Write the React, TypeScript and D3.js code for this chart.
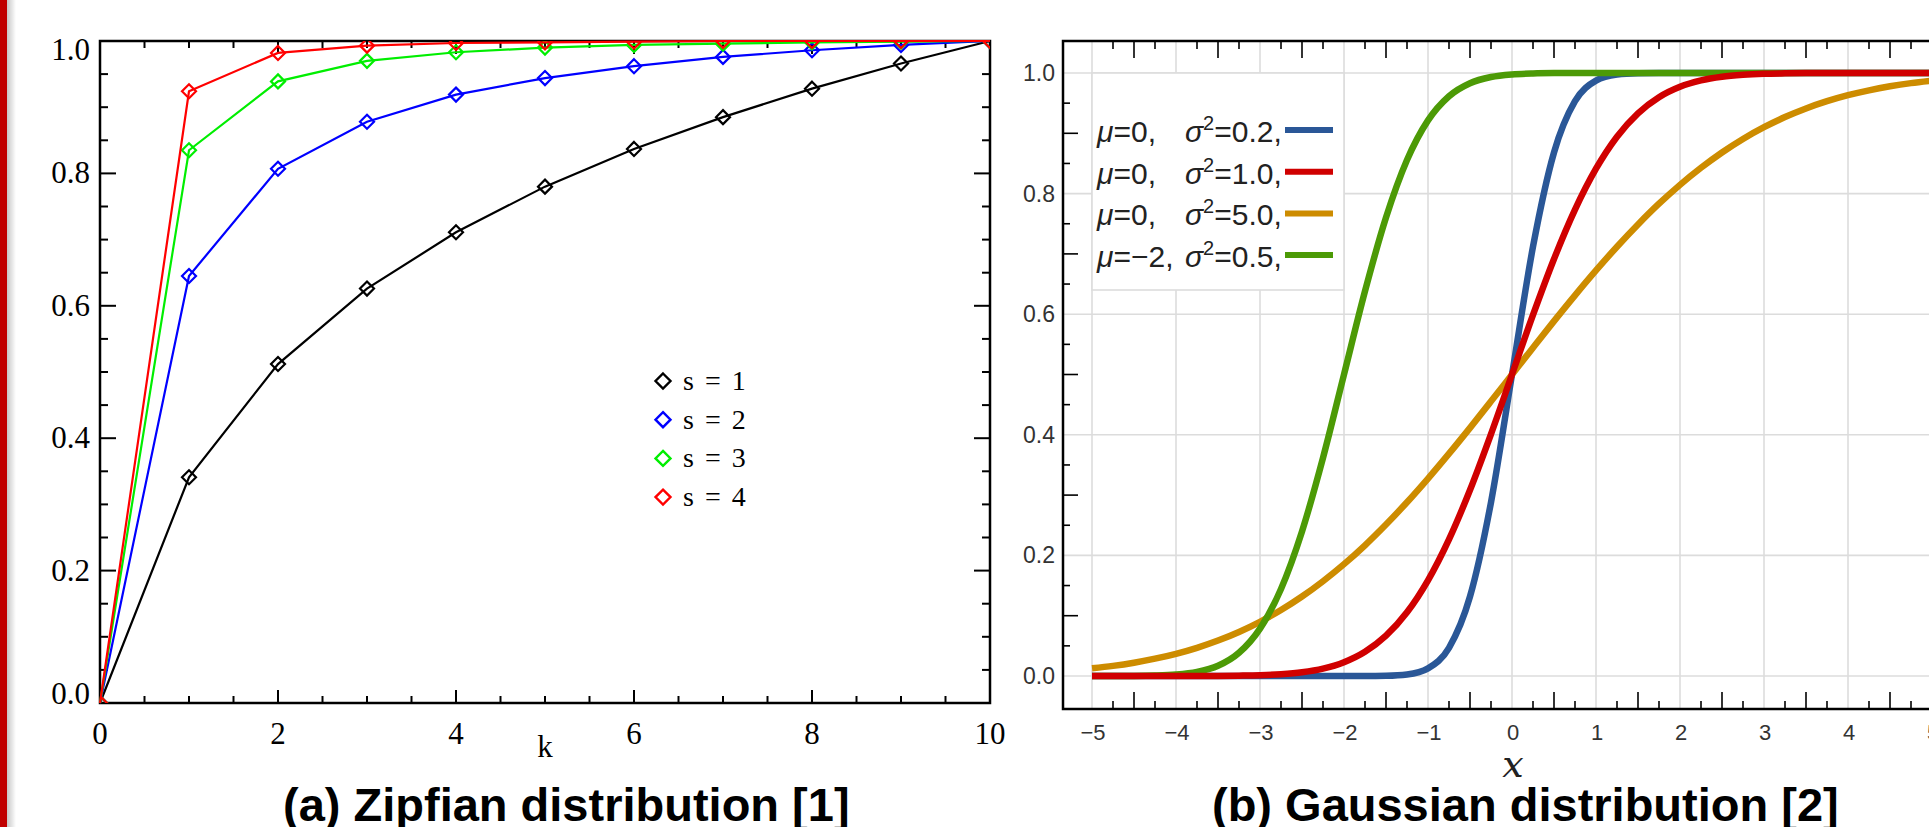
import { useEffect, useRef } from 'react';
import * as d3 from 'd3';

const WIDTH = 1929;
const HEIGHT = 827;

// (a) Zipfian CDF
const ZIPF_K = [0, 1, 2, 3, 4, 5, 6, 7, 8, 9, 10];
const ZIPF_S1 = [0, 0.341, 0.512, 0.626, 0.711, 0.78, 0.837, 0.885, 0.928, 0.966, 1.0];
const ZIPF_S2 = [0, 0.645, 0.807, 0.878, 0.919, 0.944, 0.962, 0.976, 0.986, 0.994, 1.0];
const ZIPF_S3 = [0, 0.835, 0.939, 0.97, 0.983, 0.99, 0.994, 0.996, 0.998, 0.999, 1.0];
const ZIPF_S4 = [0, 0.924, 0.982, 0.993, 0.997, 0.998, 0.999, 1.0, 1.0, 1.0, 1.0];
const ZIPF_LABELS = ['s = 1', 's = 2', 's = 3', 's = 4'];
const ZIPF_COLORS = ['#000000', '#0000ff', '#00ee00', '#ff0000'];
const ZIPF_X_TICKS = [0, 2, 4, 6, 8, 10];
const ZIPF_Y_TICKS = [0, 0.2, 0.4, 0.6, 0.8, 1.0];

// (b) Gaussian CDF, sampled every 0.25 from the picture
const GAUSS_X = [
  -5, -4.75, -4.5, -4.25, -4, -3.75, -3.5, -3.25, -3, -2.75, -2.5, -2.25, -2, -1.75, -1.5, -1.25, -1,
  -0.75, -0.5, -0.25, 0, 0.25, 0.5, 0.75, 1, 1.25, 1.5, 1.75, 2, 2.25, 2.5, 2.75, 3, 3.25, 3.5, 3.75, 4,
  4.25, 4.5, 4.75, 5,
];
const GAUSS_BLUE = [
  0, 0, 0, 0, 0, 0, 0, 0, 0, 0, 0, 0, 0, 0, 0.0004, 0.0026, 0.0127, 0.0468, 0.1318, 0.2881, 0.5, 0.7119,
  0.8682, 0.9532, 0.9873, 0.9974, 0.9996, 1, 1, 1, 1, 1, 1, 1, 1, 1, 1, 1, 1, 1, 1,
];
const GAUSS_RED = [
  0, 0, 0, 0, 0, 0.0001, 0.0002, 0.0006, 0.0013, 0.003, 0.0062, 0.0122, 0.0228, 0.0401, 0.0668, 0.1056,
  0.1587, 0.2266, 0.3085, 0.4013, 0.5, 0.5987, 0.6915, 0.7734, 0.8413, 0.8944, 0.9332, 0.9599, 0.9772,
  0.9878, 0.9938, 0.997, 0.9987, 0.9994, 0.9998, 0.9999, 1, 1, 1, 1, 1,
];
const GAUSS_ORANGE = [
  0.0127, 0.0168, 0.0221, 0.0287, 0.0368, 0.0468, 0.0588, 0.0731, 0.0899, 0.1094, 0.1318, 0.1572, 0.1855,
  0.2168, 0.2512, 0.2881, 0.3274, 0.3687, 0.4115, 0.4555, 0.5, 0.5445, 0.5885, 0.6313, 0.6726, 0.7119,
  0.7488, 0.7832, 0.8145, 0.8428, 0.8682, 0.8906, 0.9101, 0.9269, 0.9412, 0.9532, 0.9632, 0.9713, 0.9779,
  0.9832, 0.9873,
];
const GAUSS_GREEN = [
  0, 0.0001, 0.0002, 0.0007, 0.0023, 0.0067, 0.0169, 0.0385, 0.0786, 0.1444, 0.2398, 0.3618, 0.5, 0.6382,
  0.7602, 0.8556, 0.9214, 0.9615, 0.9831, 0.9933, 0.9977, 0.9993, 0.9998, 0.9999, 1, 1, 1, 1, 1, 1, 1, 1,
  1, 1, 1, 1, 1, 1, 1, 1, 1,
];
const GAUSS_MU = ['0', '0', '0', '\u22122'];
const GAUSS_VAR = ['0.2', '1.0', '5.0', '0.5'];
const GAUSS_COLORS = ['#2a5797', '#d00000', '#cd8c00', '#4c9a06'];
const GAUSS_X_TICKS = [-5, -4, -3, -2, -1, 0, 1, 2, 3, 4, 5];
const GAUSS_Y_TICKS = [0, 0.2, 0.4, 0.6, 0.8, 1.0];

const diamond = (r: number) => `M0,${-r}L${r},0L0,${r}L${-r},0Z`;

// petits traits de graduation, vers l'intérieur du cadre
const addTicks = (g: any, vals: number[], scale: any, side: string, at: number, len: number, width = 2) => {
  g.selectAll(null)
    .data(vals)
    .enter()
    .append('line')
    .attr('stroke', '#000')
    .attr('stroke-width', width)
    .each(function (this: SVGLineElement, d: number) {
      const l = d3.select(this);
      const p = scale(d);
      if (side === 'bottom') l.attr('x1', p).attr('x2', p).attr('y1', at).attr('y2', at - len);
      if (side === 'top') l.attr('x1', p).attr('x2', p).attr('y1', at).attr('y2', at + len);
      if (side === 'left') l.attr('y1', p).attr('y2', p).attr('x1', at).attr('x2', at + len);
      if (side === 'right') l.attr('y1', p).attr('y2', p).attr('x1', at).attr('x2', at - len);
    });
};

const drawZipf = (svg: any) => {
  const x = d3.scaleLinear().domain([0, 10]).range([100, 990]);
  const y = d3.scaleLinear().domain([0, 1]).range([703, 41]);
  const [left, right] = x.range();
  const [bottom, top] = y.range();
  const g = svg.append('g');

  g.append('clipPath')
    .attr('id', 'zipf-clip')
    .append('rect')
    .attr('x', left)
    .attr('y', top)
    .attr('width', right - left)
    .attr('height', bottom - top);

  const xMinor = d3.range(0, 10.001, 0.5).filter(v => !ZIPF_X_TICKS.includes(v));
  const yMinor = d3.range(0, 1.001, 0.05).filter(v => Math.abs(v * 5 - Math.round(v * 5)) > 1e-6);

  addTicks(g, ZIPF_X_TICKS, x, 'bottom', bottom, 13);
  addTicks(g, xMinor, x, 'bottom', bottom, 7);
  addTicks(g, ZIPF_X_TICKS, x, 'top', top, 13);
  addTicks(g, xMinor, x, 'top', top, 7);
  addTicks(g, ZIPF_Y_TICKS, y, 'left', left, 16);
  addTicks(g, yMinor, y, 'left', left, 8);
  addTicks(g, ZIPF_Y_TICKS, y, 'right', right, 16);
  addTicks(g, yMinor, y, 'right', right, 8);

  g.append('rect')
    .attr('x', left)
    .attr('y', top)
    .attr('width', right - left)
    .attr('height', bottom - top)
    .attr('fill', 'none')
    .attr('stroke', '#000')
    .attr('stroke-width', 2.5);

  // libellés des axes
  g.selectAll(null)
    .data(ZIPF_X_TICKS)
    .enter()
    .append('text')
    .attr('x', (d: number) => x(d))
    .attr('y', 744)
    .attr('text-anchor', 'middle')
    .style('font-family', '"Liberation Serif", serif')
    .style('font-size', '31px')
    .text((d: number) => d);

  g.selectAll(null)
    .data(ZIPF_Y_TICKS)
    .enter()
    .append('text')
    .attr('x', 90)
    .attr('y', (d: number) => y(d) + 10 + (d === 1 ? 9 : d === 0 ? -9 : 0))
    .attr('text-anchor', 'end')
    .style('font-family', '"Liberation Serif", serif')
    .style('font-size', '31px')
    .text((d: number) => d.toFixed(1));

  g.append('text')
    .attr('x', 545)
    .attr('y', 757)
    .attr('text-anchor', 'middle')
    .style('font-family', '"Liberation Serif", serif')
    .style('font-size', '31px')
    .text('k');

  const series = [ZIPF_S1, ZIPF_S2, ZIPF_S3, ZIPF_S4];
  const line = d3
    .line<number>()
    .x((d, i) => x(ZIPF_K[i]))
    .y(d => y(d));

  series.forEach((values, s) => {
    g.append('path')
      .attr('d', line(values))
      .attr('fill', 'none')
      .attr('stroke', ZIPF_COLORS[s])
      .attr('stroke-width', 2.2);
    g.append('g')
      .attr('clip-path', 'url(#zipf-clip)')
      .selectAll('path')
      .data(values)
      .enter()
      .append('path')
      .attr('d', diamond(7))
      .attr('transform', (d: number, i: number) => `translate(${x(ZIPF_K[i])},${y(d)})`)
      .attr('fill', 'none')
      .attr('stroke', ZIPF_COLORS[s])
      .attr('stroke-width', 2.2);
  });

  // légende
  const legend = g.append('g').attr('transform', 'translate(663, 381)');
  ZIPF_LABELS.forEach((label, i) => {
    legend
      .append('path')
      .attr('d', diamond(7.5))
      .attr('transform', `translate(0, ${i * 38.7})`)
      .attr('fill', 'none')
      .attr('stroke', ZIPF_COLORS[i])
      .attr('stroke-width', 2.4);
    legend
      .append('text')
      .attr('x', 20)
      .attr('y', i * 38.7 + 9)
      .style('font-family', '"Liberation Serif", serif')
      .style('font-size', '28px')
      .style('word-spacing', '4px')
      .text(label);
  });

  svg
    .append('text')
    .attr('x', 283)
    .attr('y', 821)
    .style('font-family', '"Liberation Sans", Arial, sans-serif')
    .style('font-weight', 'bold')
    .style('font-size', '47px')
    .text('(a) Zipfian distribution [1]');
};

const drawGauss = (svg: any) => {
  const x = d3.scaleLinear().domain([-5, 5]).range([1092, 1932]);
  const y = d3.scaleLinear().domain([0, 1]).range([676, 73]);
  const left = 1063;
  const top = 41;
  const bottom = 709;
  const right = WIDTH;
  const g = svg.append('g');

  // grille
  g.selectAll(null)
    .data(GAUSS_X_TICKS)
    .enter()
    .append('line')
    .attr('x1', (d: number) => x(d))
    .attr('x2', (d: number) => x(d))
    .attr('y1', top)
    .attr('y2', bottom)
    .attr('stroke', '#dcdcdc')
    .attr('stroke-width', 1.6);
  g.selectAll(null)
    .data(GAUSS_Y_TICKS)
    .enter()
    .append('line')
    .attr('x1', left)
    .attr('x2', right)
    .attr('y1', (d: number) => y(d))
    .attr('y2', (d: number) => y(d))
    .attr('stroke', '#dcdcdc')
    .attr('stroke-width', 1.6);

  const xLong = d3.range(-4.5, 5, 1);
  const xShort = d3.range(-4.75, 5, 0.5);
  const yLong = [0.1, 0.3, 0.5, 0.7, 0.9];
  const yShort = d3.range(0.05, 1, 0.1);

  addTicks(g, xLong, x, 'bottom', bottom, 17, 1.6);
  addTicks(g, xShort, x, 'bottom', bottom, 8, 1.6);
  addTicks(g, xLong, x, 'top', top, 17, 1.6);
  addTicks(g, xShort, x, 'top', top, 8, 1.6);
  addTicks(g, yLong, y, 'left', left, 15, 1.6);
  addTicks(g, yShort, y, 'left', left, 7, 1.6);

  g.append('path')
    .attr('d', `M${right},${top}H${left}V${bottom}H${right}`)
    .attr('fill', 'none')
    .attr('stroke', '#000')
    .attr('stroke-width', 2.5);

  g.selectAll(null)
    .data(GAUSS_X_TICKS)
    .enter()
    .append('text')
    .attr('x', (d: number) => x(d) + 1)
    .attr('y', 740)
    .attr('text-anchor', 'middle')
    .attr('fill', '#333')
    .style('font-family', '"Liberation Sans", sans-serif')
    .style('font-size', '22px')
    .text((d: number) => (d < 0 ? '\u2212' + Math.abs(d) : String(d)));

  g.selectAll(null)
    .data(GAUSS_Y_TICKS)
    .enter()
    .append('text')
    .attr('x', 1055)
    .attr('y', (d: number) => y(d) + 8)
    .attr('text-anchor', 'end')
    .attr('fill', '#333')
    .style('font-family', '"Liberation Sans", sans-serif')
    .style('font-size', '23px')
    .text((d: number) => d.toFixed(1));

  g.append('text')
    .attr('x', 1513)
    .attr('y', 777)
    .attr('text-anchor', 'middle')
    .attr('fill', '#222')
    .style('font-family', '"DejaVu Serif", serif')
    .style('font-style', 'italic')
    .style('font-size', '38px')
    .text('x');

  // légende (boîte blanche posée sur la grille)
  g.append('rect')
    .attr('x', x(-5))
    .attr('y', y(1))
    .attr('width', x(-2) - x(-5))
    .attr('height', 217)
    .attr('fill', '#fff')
    .attr('stroke', '#dcdcdc')
    .attr('stroke-width', 1.6);

  GAUSS_MU.forEach((mu, i) => {
    const cy = 130 + i * 41.7;
    const t = g
      .append('text')
      .attr('y', cy + 12)
      .attr('fill', '#222')
      .style('font-family', '"Liberation Sans", sans-serif')
      .style('font-size', '30px');
    t.append('tspan').attr('x', 1097).style('font-style', 'italic').text('\u03bc');
    t.append('tspan').text(`=${mu},`);
    t.append('tspan').attr('x', 1185).style('font-style', 'italic').text('\u03c3');
    t.append('tspan').attr('dy', -12).style('font-size', '20px').text('2');
    t.append('tspan').attr('dy', 12).text(`=${GAUSS_VAR[i]},`);
    g.append('line')
      .attr('x1', 1285)
      .attr('x2', 1333)
      .attr('y1', cy)
      .attr('y2', cy)
      .attr('stroke', GAUSS_COLORS[i])
      .attr('stroke-width', 6);
  });

  const line = d3
    .line<number>()
    .x((d, i) => x(GAUSS_X[i]))
    .y(d => y(d))
    .curve(d3.curveMonotoneX);

  // ordre de tracé : bleu, orange, vert, rouge
  const order = [0, 2, 3, 1];
  const series = [GAUSS_BLUE, GAUSS_RED, GAUSS_ORANGE, GAUSS_GREEN];
  order.forEach(s => {
    g.append('path')
      .attr('d', line(series[s]))
      .attr('fill', 'none')
      .attr('stroke', GAUSS_COLORS[s])
      .attr('stroke-width', 6.5)
      .attr('stroke-linecap', 'butt');
  });

  svg
    .append('text')
    .attr('x', 1212)
    .attr('y', 821)
    .style('font-family', '"Liberation Sans", Arial, sans-serif')
    .style('font-weight', 'bold')
    .style('font-size', '47px')
    .text('(b) Gaussian distribution [2]');
};

const App = () => {
  const ref = useRef<SVGSVGElement>(null);

  useEffect(() => {
    if (!ref.current) return;
    const svg = d3.select(ref.current);
    svg.selectAll('*').remove();

    // bande rouge à gauche, avec son ombre
    const grad = svg
      .append('defs')
      .append('linearGradient')
      .attr('id', 'bar-shadow')
      .attr('x1', 0)
      .attr('x2', 1);
    grad.append('stop').attr('offset', 0).attr('stop-color', '#000').attr('stop-opacity', 0.22);
    grad.append('stop').attr('offset', 1).attr('stop-color', '#000').attr('stop-opacity', 0);
    svg.append('rect').attr('x', 7).attr('y', 0).attr('width', 9).attr('height', HEIGHT).attr('fill', 'url(#bar-shadow)');
    svg.append('rect').attr('x', 0).attr('y', 0).attr('width', 7).attr('height', HEIGHT).attr('fill', '#c00000');

    drawZipf(svg);
    drawGauss(svg);
  }, []);

  return (
    <>
      <style>{`body { margin: 0; } svg { display: block; }`}</style>
      <svg ref={ref} width={WIDTH} height={HEIGHT} style={{ background: '#fff' }} />
    </>
  );
};

export default App;
